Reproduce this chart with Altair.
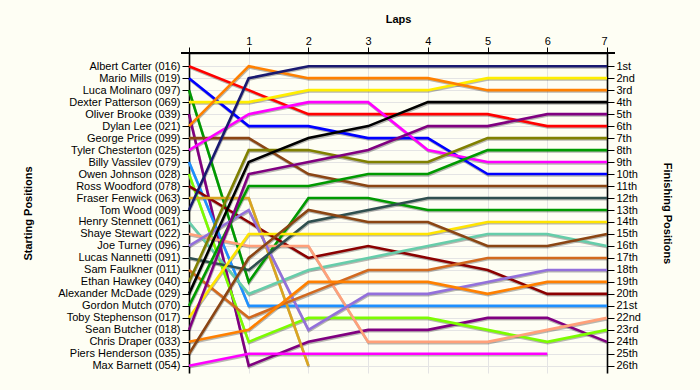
import altair as alt
import pandas as pd

drivers = [
    "Albert Carter (016)", "Mario Mills (019)", "Luca Molinaro (097)", "Dexter Patterson (069)",
    "Oliver Brooke (039)", "Dylan Lee (021)", "George Price (099)", "Tyler Chesterton (025)",
    "Billy Vassilev (079)", "Owen Johnson (028)", "Ross Woodford (078)", "Fraser Fenwick (063)",
    "Tom Wood (009)", "Henry Stennett (061)", "Shaye Stewart (022)", "Joe Turney (096)",
    "Lucas Nannetti (091)", "Sam Faulkner (011)", "Ethan Hawkey (040)", "Alexander McDade (029)",
    "Gordon Mutch (070)", "Toby Stephenson (017)", "Sean Butcher (018)", "Chris Draper (033)",
    "Piers Henderson (035)", "Max Barnett (054)",
]
colors = [
    "#FF0000", "#0000FF", "#009A00", "#FFEE00",
    "#800080", "#FF8000", "#8B4513", "#FF00FF",
    "#1E90FF", "#7CFC00", "#8B0000", "#DAA520",
    "#191970", "#66CDAA", "#FFA07A", "#9370DB",
    "#2F4F4F", "#D2691E", "#808000", "#000000",
    "#009A00", "#FFE400", "#800080", "#FF8000",
    "#8B4513", "#FF00FF",
]
# position of each driver (in the order above) after each lap; None = retired
lap0 = list(range(1, 27))
lap1 = [3, 6, 19, 4, 26, 1, 7, 5, 21, 24, 14, 12, 2, 20, 16, 13, 18, 22, 8, 9, 11, 15, 10, 23, 17, 25]
lap2 = [5, 6, 12, 3, 24, 2, 10, 4, 21, 22, 17, 26, 1, 18, 16, 23, 14, 20, 8, 7, 11, 15, 9, 19, 13, 25]
lap3 = [5, 7, 12, 3, 23, 2, 11, 4, 21, 22, 16, None, 1, 17, 24, 20, 13, 18, 9, 6, 10, 15, 8, 19, 14, 25]
lap4 = [5, 7, 13, 3, 23, 2, 11, 8, 21, 22, 17, None, 1, 16, 24, 20, 12, 18, 9, 4, 10, 15, 6, 19, 14, 25]
lap5 = [5, 10, 13, 2, 22, 3, 11, 9, 21, 23, 18, None, 1, 15, 24, 19, 12, 17, 7, 4, 8, 14, 6, 20, 16, 25]
lap6 = [6, 10, 13, 2, 22, 3, 11, 9, 21, 24, 20, None, 1, 15, 23, 18, 12, 17, 7, 4, 8, 14, 5, 19, 16, 25]
lap7 = [6, 10, 13, 2, 24, 3, 11, 9, 21, 23, 20, None, 1, 16, 22, 18, 12, 17, 7, 4, 8, 14, 5, 19, 15, None]
laps = [lap0, lap1, lap2, lap3, lap4, lap5, lap6, lap7]

finishing_labels = [
    "1st", "2nd", "3rd", "4th", "5th", "6th", "7th", "8th", "9th", "10th", "11th", "12th", "13th",
    "14th", "15th", "16th", "17th", "18th", "19th", "20th", "21st", "22nd", "23rd", "24th", "25th", "26th",
]

rows = []
for lap_no, lap in enumerate(laps):
    for d, p in zip(drivers, lap):
        if p is not None:
            rows.append({"driver": d, "lap": lap_no, "pos": p})
df = pd.DataFrame(rows)

FONT = "Liberation Sans"
start_arr = "[" + ",".join("'" + n + "'" for n in drivers) + "]"
fin_arr = "[" + ",".join("'" + n + "'" for n in finishing_labels) + "]"

x_axis = alt.Axis(
    orient="top", values=list(range(0, 8)), title="Laps",
    labelExpr="datum.value == 0 ? '' : datum.label",
    grid=True, gridColor="#E4E4E4", gridWidth=1,
    domainColor="#000", domainWidth=1.6, tickColor="#000", tickSize=6, tickWidth=1,
    labelFont=FONT, labelFontSize=11, labelColor="#000", labelPadding=1,
    titleFont=FONT, titleFontSize=11, titleFontWeight="bold", titleColor="#000",
    titleY=-34, titleBaseline="middle",
)
x_enc = alt.X("lap:Q", scale=alt.Scale(domain=[0, 7], nice=False, zero=False), axis=x_axis)
y_scale = alt.Scale(domain=[-0.1, 26.6], reverse=True, nice=False, zero=False)

left_axis = alt.Axis(
    orient="left", values=list(range(1, 27)), title="Starting Positions",
    labelExpr=start_arr + "[datum.value - 1]", labelOverlap=False, labelBound=False,
    grid=True, gridColor="#E4E4E4", gridWidth=1,
    domainColor="#000", domainWidth=1.6, tickColor="#000", tickSize=7, tickWidth=1,
    labelFont=FONT, labelFontSize=11, labelColor="#000", labelPadding=2,
    titleFont=FONT, titleFontSize=11, titleFontWeight="bold", titleColor="#000",
    titleX=-161, titleY=160, titleAngle=270, titleBaseline="middle", titleAlign="center",
)
right_axis = alt.Axis(
    orient="right", values=list(range(1, 27)), title="Finishing Positions",
    labelExpr=fin_arr + "[datum.value - 1]", labelOverlap=False, labelBound=False,
    grid=False,
    domainColor="#000", domainWidth=1.6, tickColor="#000", tickSize=7, tickWidth=1,
    labelFont=FONT, labelFontSize=11, labelColor="#000", labelPadding=2,
    titleFont=FONT, titleFontSize=11, titleFontWeight="bold", titleColor="#000",
    titleX=59, titleY=160, titleAngle=90, titleBaseline="middle", titleAlign="center",
)

color_enc = alt.Color("driver:N", scale=alt.Scale(domain=drivers, range=colors), legend=None)

shadow = alt.Chart(df).mark_line(
    strokeWidth=2.6, color="#000", opacity=0.28, xOffset=0.5, yOffset=1.3
).encode(
    x=x_enc,
    y=alt.Y("pos:Q", scale=y_scale, axis=left_axis),
    detail="driver:N",
)

lines = alt.Chart(df).mark_line(strokeWidth=2.6).encode(
    x=x_enc,
    y=alt.Y("pos:Q", scale=y_scale, axis=right_axis),
    color=color_enc,
    detail="driver:N",
)

top_ext = alt.Chart(df).mark_rule(color="#000", strokeWidth=1.6).encode(
    x=alt.value(-8), x2=alt.value(426), y=alt.value(0)
)

chart = alt.layer(shadow, lines, top_ext).resolve_axis(y="independent").properties(
    width=418, height=320,
    autosize=alt.AutoSizeParams(type="none"),
    padding={"left": 189, "top": 53, "right": 93, "bottom": 17},
    background="#FEFEF4",
).configure_view(strokeWidth=0)

chart.save("out.html", embed_options={"renderer": "svg", "actions": False})
